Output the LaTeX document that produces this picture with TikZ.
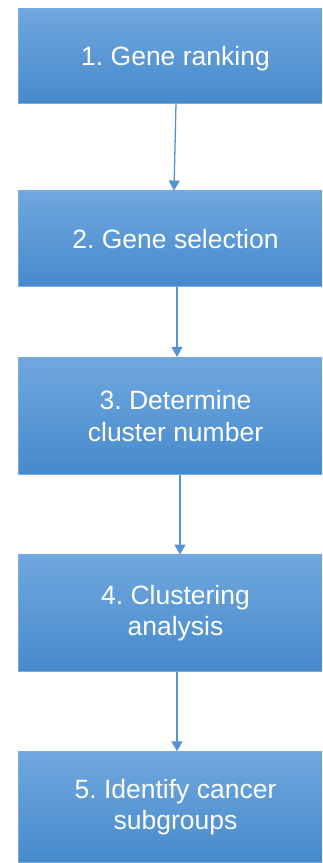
\documentclass[tikz,border=0pt]{standalone}
\usepackage{fontspec}
\setmainfont{Liberation Sans}
\usetikzlibrary{arrows.meta}
\definecolor{boxtop}{RGB}{112,167,222}
\definecolor{boxbot}{RGB}{70,138,204}
\definecolor{boxline}{RGB}{120,172,224}
\definecolor{arrcol}{RGB}{84,148,212}
\tikzset{
  stepbox/.style={rectangle, draw=boxline, line width=0.8pt, top color=boxtop, bottom color=boxbot,
    minimum width=315pt, text=white, align=center, inner sep=0pt,
    font=\fontsize{26.5}{31.5}\selectfont},
  oneline/.style={text height=19pt, text depth=0pt},
  arr/.style={draw=arrcol, line width=1.3pt, -{Triangle[width=11pt,length=10pt]}}
}
\begin{document}
\frenchspacing
\begin{tikzpicture}[x=1pt,y=1pt]
\useasboundingbox (0,0) rectangle (322,863);
\clip (0,0) rectangle (322,863);
\fill[white] (0,0) rectangle (322,863);
\node[stepbox, oneline, minimum height=94pt] (b1) at (175.5,807) {1. Gene ranking};
\node[stepbox, oneline, minimum height=95.7pt] (b2) at (175.5,624.2) {2. Gene selection};
\node[stepbox, minimum height=117pt] (b3) at (175.5,447.2) {3. Determine\\cluster number};
\node[stepbox, minimum height=116.7pt] (b4) at (175.5,249.7) {4. Clustering\\analysis};
\node[stepbox, minimum height=111pt] (b5) at (175.5,55.8) {5. Identify cancer\\subgroups};
\coordinate (a1s) at (176,0);
\coordinate (a1e) at (174,0);
\coordinate (a2) at (177,0);
\coordinate (a3) at (180,0);
\coordinate (a4) at (177,0);
\draw[arr] (b1.south -| a1s) -- (b2.north -| a1e);
\draw[arr] (b2.south -| a2) -- (b3.north -| a2);
\draw[arr] (b3.south -| a3) -- (b4.north -| a3);
\draw[arr] (b4.south -| a4) -- (b5.north -| a4);
\end{tikzpicture}
\end{document}
